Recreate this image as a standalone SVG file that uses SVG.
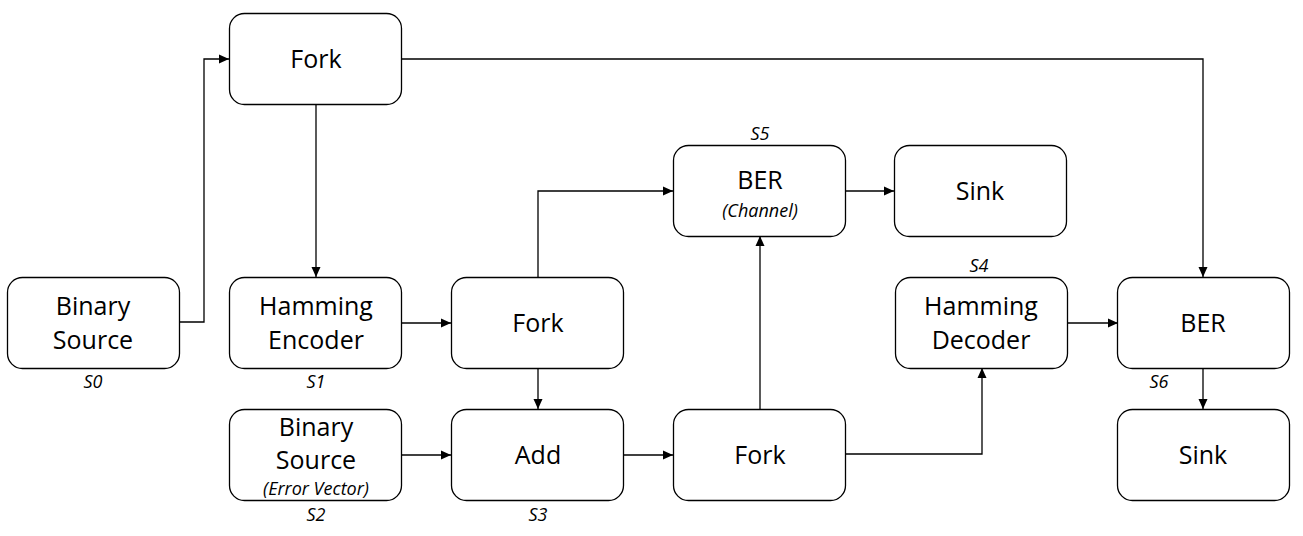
<svg xmlns="http://www.w3.org/2000/svg" width="1303" height="536" viewBox="0 0 1303 536">
<style>
.box{fill:#fff;stroke:#000;stroke-width:1.3}
.t{font-family:"Open Sans","Noto Sans",sans-serif;font-size:25px;fill:#000;text-anchor:middle}
.s{font-family:"Open Sans","Noto Sans",sans-serif;font-size:18px;font-style:italic;fill:#000;text-anchor:middle}
.l{font-family:"Open Sans","Noto Sans",sans-serif;font-size:18px;font-style:italic;fill:#000;text-anchor:middle}
.c{fill:none;stroke:#000;stroke-width:1.3}
</style>
<defs>
<marker id="ar" viewBox="0 0 10 10" refX="10" refY="5" markerWidth="10" markerHeight="10" markerUnits="userSpaceOnUse" orient="auto">
<path d="M0,0.5 L10,5 L0,9.5 Z" fill="#000"/>
</marker>
</defs>
<rect width="1303" height="536" fill="#fff"/>
<g id="connectors">
<polyline class="c" points="180,322 204,322 204,59 229,59" marker-end="url(#ar)"/>
<line class="c" x1="316" y1="104" x2="316" y2="277" marker-end="url(#ar)"/>
<polyline class="c" points="402,59 1203,59 1203,277" marker-end="url(#ar)"/>
<line class="c" x1="402" y1="323" x2="451" y2="323" marker-end="url(#ar)"/>
<polyline class="c" points="538,277 538,191 673,191" marker-end="url(#ar)"/>
<line class="c" x1="538" y1="368" x2="538" y2="409" marker-end="url(#ar)"/>
<line class="c" x1="402" y1="455" x2="451" y2="455" marker-end="url(#ar)"/>
<line class="c" x1="623" y1="455" x2="673" y2="455" marker-end="url(#ar)"/>
<line class="c" x1="760" y1="409" x2="760" y2="236" marker-end="url(#ar)"/>
<polyline class="c" points="846,454 982,454 982,368" marker-end="url(#ar)"/>
<line class="c" x1="846" y1="191" x2="894" y2="191" marker-end="url(#ar)"/>
<line class="c" x1="1067" y1="323" x2="1118" y2="323" marker-end="url(#ar)"/>
<line class="c" x1="1203" y1="368" x2="1203" y2="409" marker-end="url(#ar)"/>
</g>
<g id="fork1">
<rect class="box" x="229.5" y="13.5" width="172" height="91" rx="15"/>
<text class="t" x="316" y="68">Fork</text>
</g>
<g id="src0">
<rect class="box" x="7.5" y="277.5" width="172" height="91" rx="15"/>
<text class="t" x="93" y="315">Binary</text>
<text class="t" x="93" y="349">Source</text>
<text class="l" x="93" y="388">S0</text>
</g>
<g id="enc">
<rect class="box" x="229.5" y="277.5" width="172" height="91" rx="15"/>
<text class="t" x="316" y="315">Hamming</text>
<text class="t" x="316" y="349">Encoder</text>
<text class="l" x="316" y="388">S1</text>
</g>
<g id="fork2">
<rect class="box" x="451.5" y="277.5" width="172" height="91" rx="15"/>
<text class="t" x="538" y="332">Fork</text>
</g>
<g id="src2">
<rect class="box" x="229.5" y="409.5" width="172" height="91" rx="15"/>
<text class="t" x="316" y="436">Binary</text>
<text class="t" x="316" y="469">Source</text>
<text class="s" x="316" y="495">(Error Vector)</text>
<text class="l" x="316" y="521">S2</text>
</g>
<g id="add">
<rect class="box" x="451.5" y="409.5" width="172" height="91" rx="15"/>
<text class="t" x="538" y="464">Add</text>
<text class="l" x="538" y="521">S3</text>
</g>
<g id="ber1">
<rect class="box" x="673.5" y="145.5" width="172" height="91" rx="15"/>
<text class="t" x="760" y="189">BER</text>
<text class="s" x="760" y="217">(Channel)</text>
<text class="l" x="760" y="140">S5</text>
</g>
<g id="sink1">
<rect class="box" x="894.5" y="145.5" width="172" height="91" rx="15"/>
<text class="t" x="980" y="200">Sink</text>
</g>
<g id="fork3">
<rect class="box" x="673.5" y="409.5" width="172" height="91" rx="15"/>
<text class="t" x="760" y="464">Fork</text>
</g>
<g id="dec">
<rect class="box" x="895.5" y="277.5" width="172" height="91" rx="15"/>
<text class="t" x="981" y="315">Hamming</text>
<text class="t" x="981" y="349">Decoder</text>
<text class="l" x="979" y="272">S4</text>
</g>
<g id="ber2">
<rect class="box" x="1117.5" y="277.5" width="172" height="91" rx="15"/>
<text class="t" x="1203" y="332">BER</text>
<text class="l" x="1159" y="388">S6</text>
</g>
<g id="sink2">
<rect class="box" x="1117.5" y="409.5" width="172" height="91" rx="15"/>
<text class="t" x="1203" y="464">Sink</text>
</g>
</svg>
